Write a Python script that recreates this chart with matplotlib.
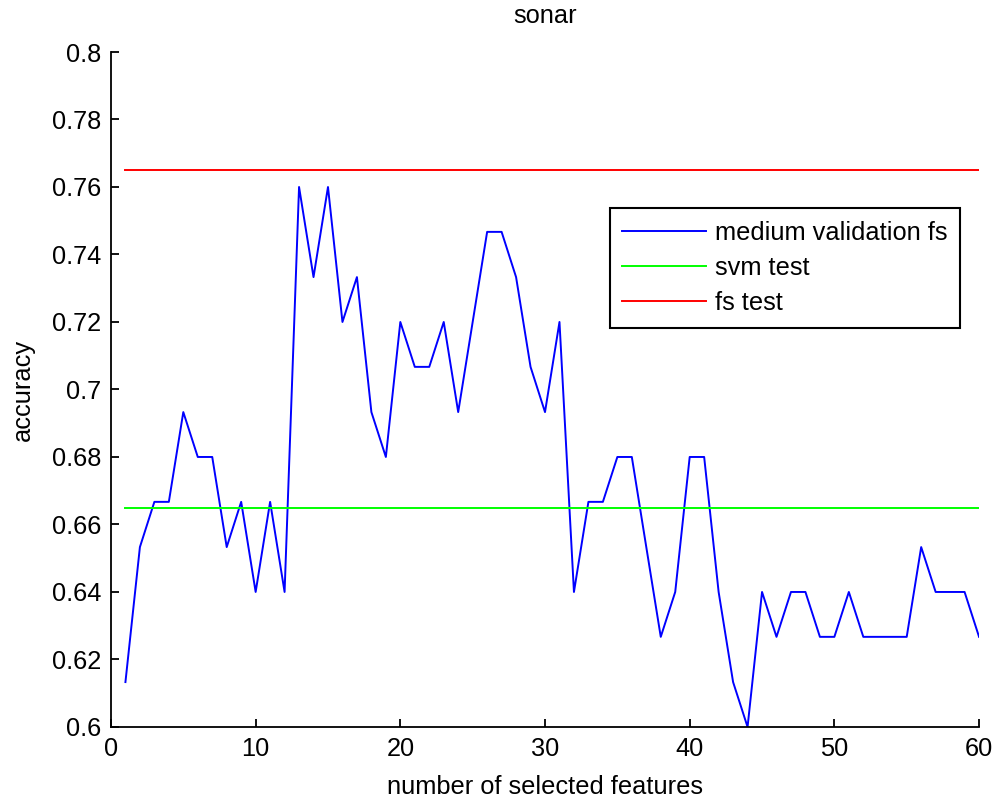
import numpy as np
import matplotlib
matplotlib.use('Agg')
import matplotlib.pyplot as plt

plt.rcParams['font.family'] = ['Liberation Sans', 'DejaVu Sans']

# accuracy per number of selected features
n_features = list(range(1, 61))
val_acc = [0.6133, 0.6533, 0.6667, 0.6667, 0.6933, 0.6800, 0.6800, 0.6533, 0.6667, 0.6400,
           0.6667, 0.6400, 0.7600, 0.7333, 0.7600, 0.7200, 0.7333, 0.6933, 0.6800, 0.7200,
           0.7067, 0.7067, 0.7200, 0.6933, 0.7200, 0.7467, 0.7467, 0.7333, 0.7067, 0.6933,
           0.7200, 0.6400, 0.6667, 0.6667, 0.6800, 0.6800, 0.6533, 0.6267, 0.6400, 0.6800,
           0.6800, 0.6400, 0.6133, 0.6000, 0.6400, 0.6267, 0.6400, 0.6400, 0.6267, 0.6267,
           0.6400, 0.6267, 0.6267, 0.6267, 0.6267, 0.6533, 0.6400, 0.6400, 0.6400, 0.6267]
svm_test = 0.665
fs_test = 0.765

fs = 18.3

fig = plt.figure(figsize=(9.97, 8.0), dpi=100)
ax = fig.add_axes([0.1113, 0.0913, 0.8707, 0.8437])

ax.plot(n_features, val_acc, color='#0000ff', lw=1.4, label='medium validation fs')
ax.plot([n_features[0], n_features[-1]], [svm_test, svm_test], color='#00ff00', lw=1.4, label='svm test')
ax.plot([n_features[0], n_features[-1]], [fs_test, fs_test], color='#ff0000', lw=1.4, label='fs test')

ax.set_xlim(0, 60)
ax.set_ylim(0.6, 0.8)
ax.set_xticks(np.arange(0, 61, 10))
ax.set_yticks(np.arange(0.6, 0.801, 0.02))
ax.set_yticklabels(['0.6', '0.62', '0.64', '0.66', '0.68', '0.7', '0.72', '0.74', '0.76', '0.78', '0.8'])

ax.spines['top'].set_visible(False)
ax.spines['right'].set_visible(False)
for s in ('left', 'bottom'):
    ax.spines[s].set_linewidth(1.3)
ax.tick_params(direction='in', length=6, width=1.3, labelsize=fs, pad=7)

ax.set_title('sonar', fontsize=fs, pad=21)
ax.set_xlabel('number of selected features', fontsize=fs, labelpad=10)
ax.set_ylabel('accuracy', fontsize=fs, labelpad=12)

leg = ax.legend(loc='upper right', bbox_to_anchor=(0.993, 0.788), fontsize=fs,
                fancybox=False, framealpha=1, edgecolor='black',
                handlelength=3.3, handletextpad=0.35, labelspacing=0.45, borderpad=0.5)
leg.get_frame().set_linewidth(1.5)

fig.savefig('out.png', dpi=100)
